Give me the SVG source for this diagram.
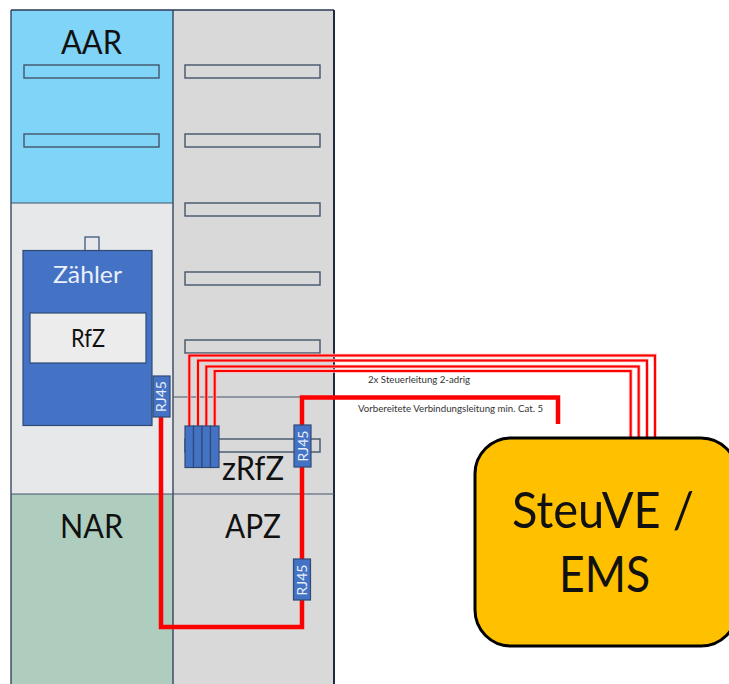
<svg xmlns="http://www.w3.org/2000/svg" width="729" height="684" viewBox="0 0 729 684">
<style>
text{font-family:Lato,"Open Sans",sans-serif;fill:#111}
.slot{fill:none;stroke:#44546a;stroke-width:1.4}
.rj{fill:#4472c4;stroke:#2f4a75;stroke-width:1.2}
.rjt{fill:#e8eefa;font-size:14px;text-anchor:middle}
.thin{fill:none;stroke:#ff0000;stroke-width:2}
.halo{fill:none;stroke:#ffb4b4;stroke-width:3.6}
.thick{fill:none;stroke:#ff0000;stroke-width:4.500}
.small{font-size:9.500px;fill:#333}
.big{font-size:32px}
</style>
<rect width="729" height="684" fill="#fff"/>
<g id="panel-aar"><rect x="11" y="10" width="162" height="193" fill="#7fd4f8"/><text x="61" y="54" class="big" textLength="61" lengthAdjust="spacingAndGlyphs">AAR</text></g>
<g id="panel-middle"><rect x="11" y="203" width="162" height="291" fill="#e7e8ea"/></g>
<g id="panel-nar"><rect x="11" y="494" width="162" height="190" fill="#aecdbe"/><text x="60" y="538" class="big" textLength="63" lengthAdjust="spacingAndGlyphs">NAR</text></g>
<g id="panel-right"><rect x="173" y="10" width="161" height="674" fill="#d9d9d9"/></g>
<g id="frame">
<path d="M11 10H334M11 10V684M173 10V684" fill="none" stroke="#2b3a55" stroke-width="1.300"/>
<path d="M334 10V684" fill="none" stroke="#1f2a40" stroke-width="2"/>
<path d="M11 203H173M11 494H334M173 397H302" fill="none" stroke="#44546a" stroke-width="1.200"/>
</g>
<g id="slots">
<rect class="slot" x="24" y="65" width="135" height="13"/>
<rect class="slot" x="24" y="134" width="135" height="13"/>
<rect class="slot" x="185" y="65" width="135" height="13"/>
<rect class="slot" x="185" y="134" width="135" height="13"/>
<rect class="slot" x="185" y="203" width="135" height="13"/>
<rect class="slot" x="185" y="272" width="135" height="13"/>
<rect class="slot" x="185" y="340" width="135" height="13"/>
<rect class="slot" x="185" y="439" width="135" height="13"/>
</g>
<g id="zaehler">
<rect x="85" y="237" width="14" height="14" fill="#e7e8ea" stroke="#2f4a75" stroke-width="1.200"/>
<rect x="23" y="250.500" width="129" height="175" fill="#4472c4" stroke="#2f4a75" stroke-width="1.200"/>
<text x="53" y="283" font-size="24" style="fill:#eaf0fb" textLength="69" lengthAdjust="spacingAndGlyphs">Zähler</text>
<rect x="30" y="313" width="116" height="50" fill="#ececec" stroke="#2f4a75" stroke-width="1.200"/>
<text x="71" y="347" font-size="25" textLength="34" lengthAdjust="spacingAndGlyphs">RfZ</text>
</g>
<g id="labels">
<text x="222" y="480" class="big" textLength="62" lengthAdjust="spacingAndGlyphs">zRfZ</text>
<text x="225" y="538" class="big" textLength="56" lengthAdjust="spacingAndGlyphs">APZ</text>
<text x="368" y="383" class="small" textLength="102" lengthAdjust="spacingAndGlyphs">2x Steuerleitung 2-adrig</text>
<text x="358" y="411.500" class="small" textLength="185" lengthAdjust="spacingAndGlyphs">Vorbereitete Verbindungsleitung min. Cat. 5</text>
</g>
<g id="connectors">
<path class="halo" d="M189.300 426V355.500H655V438"/>
<path class="thin" d="M189.300 426V355.500H655V438"/>
<path class="halo" d="M198 426V360.500H647V438"/>
<path class="thin" d="M198 426V360.500H647V438"/>
<path class="halo" d="M206.300 426V366.500H638.700V438"/>
<path class="thin" d="M206.300 426V366.500H638.700V438"/>
<path class="halo" d="M214.700 426V371H630.700V438"/>
<path class="thin" d="M214.700 426V371H630.700V438"/>
<path class="thick" d="M161 417V627H302V575"/>
<path class="thick" d="M302 560V464"/>
<path class="thick" d="M302 425V397.500H558V424"/>
</g>
<g id="zrfz-module">
<rect class="rj" x="185" y="426" width="8.500" height="41.500"/>
<rect class="rj" x="193.500" y="426" width="8.500" height="41.500"/>
<rect class="rj" x="202" y="426" width="8.500" height="41.500"/>
<rect class="rj" x="210.500" y="426" width="8.500" height="41.500"/>
</g>
<g id="rj45-1"><rect class="rj" x="153" y="376" width="17" height="41"/><text class="rjt" transform="translate(166 396.500) rotate(-90)">RJ45</text></g>
<g id="rj45-2"><rect class="rj" x="294" y="425" width="17" height="42"/><text class="rjt" transform="translate(307.500 446) rotate(-90)">RJ45</text></g>
<g id="rj45-3"><rect class="rj" x="293.500" y="559" width="17" height="41"/><text class="rjt" transform="translate(307 580) rotate(-90)">RJ45</text></g>
<g id="steuve">
<rect x="475" y="438" width="262" height="208" rx="36" ry="36" fill="#ffc000" stroke="#000" stroke-width="3"/>
<text x="512" y="528" font-size="50" textLength="182" lengthAdjust="spacingAndGlyphs">SteuVE /</text>
<text x="559" y="592" font-size="50" textLength="91" lengthAdjust="spacingAndGlyphs">EMS</text>
</g>
</svg>
